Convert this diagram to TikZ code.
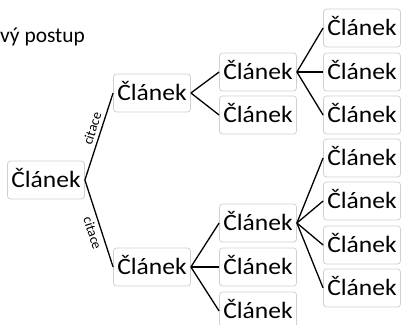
\documentclass[tikz,border=0pt]{standalone}
\usepackage{fontspec}
\usepackage{graphicx}
\setmainfont{Carlito}
\definecolor{boxgray}{HTML}{D0D0D0}
\newcommand\clanekfont{\fontsize{23.5}{27}\selectfont}
\newcommand\titlefont{\fontsize{21.5}{25}\selectfont}
\newcommand\citefont{\fontsize{14}{16}\selectfont}
\newcommand\cl{\scalebox{1.09}[1]{Článek}}
\begin{document}
\begin{tikzpicture}[x=1bp,y=-1bp,
  box/.style={draw=boxgray, line width=0.8bp, rounded corners=3bp, fill=white,
    minimum width=77bp, minimum height=38bp, inner sep=0pt,
    text height=17bp, text depth=2bp, font=\clanekfont},
  conn/.style={line width=1.3bp, black},
  cite/.style={font=\citefont, sloped, inner sep=3.5bp}]
\useasboundingbox (0,0) rectangle (402,325);
\node[anchor=base west, inner sep=0pt, font=\titlefont] (title) at (0,42) {vý postup};
% root
\node[box] (root) at (46,180) {\cl};
% level 1
\node[box] (a) at (152,93) {\cl};
\node[box] (b) at (152,267) {\cl};
% level 2 top
\node[box] (a1) at (258,72) {\cl};
\node[box] (a2) at (258,115) {\cl};
% level 2 bottom
\node[box] (b1) at (258,223) {\cl};
\node[box] (b2) at (258,267) {\cl};
\node[box] (b3) at (258,311) {\cl};
% level 3 top
\node[box] (a11) at (362,28) {\cl};
\node[box] (a12) at (362,72) {\cl};
\node[box] (a13) at (362,115) {\cl};
% level 3 bottom
\node[box] (b11) at (362,158) {\cl};
\node[box] (b12) at (362,201) {\cl};
\node[box] (b13) at (362,245) {\cl};
\node[box] (b14) at (362,288) {\cl};
% connectors
\draw[conn] (root.east) -- node[cite, pos=0.56, above] {citace} (a.west);
\draw[conn] (root.east) -- node[cite, pos=0.58, below] {citace} (b.west);
\draw[conn] (a.east) -- (a1.west);
\draw[conn] (a.east) -- (a2.west);
\draw[conn] (a1.east) -- (a11.west);
\draw[conn] (a1.east) -- (a12.west);
\draw[conn] (a1.east) -- (a13.west);
\draw[conn] (b.east) -- (b1.west);
\draw[conn] (b.east) -- (b2.west);
\draw[conn] (b.east) -- (b3.west);
\draw[conn] (b1.east) -- (b11.west);
\draw[conn] (b1.east) -- (b12.west);
\draw[conn] (b1.east) -- (b13.west);
\draw[conn] (b1.east) -- (b14.west);
\end{tikzpicture}
\end{document}
